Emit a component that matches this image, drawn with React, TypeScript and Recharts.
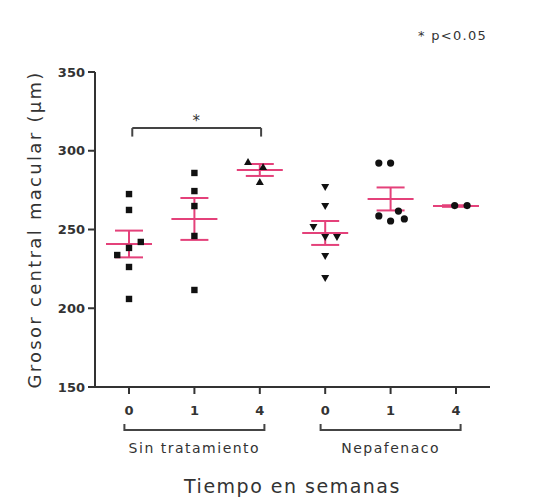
import React from "react";
import {
  ScatterChart,
  Scatter,
  XAxis,
  YAxis,
  ErrorBar,
  ReferenceLine,
  ReferenceDot,
} from "recharts";

// columns: 0-2 = Sin tratamiento (0, 1, 4 weeks), 3-5 = Nepafenaco (0, 1, 4 weeks)
const weekTicks = [0, 1, 2, 3, 4, 5];
const weekLabels = ["0", "1", "4", "0", "1", "4"];
const groupNames = ["Sin tratamiento", "Nepafenaco"];
const groupCenters = [1, 4];

const col0Values = [272.5, 262.4, 242.1, 238.3, 233.8, 226.2, 205.9];
const col0Jitter = [0, 0, 0.18, 0, -0.18, 0, 0];
const col1Values = [285.9, 274.4, 264.9, 245.9, 211.6];
const col1Jitter = [0, 0, 0, 0, 0];
const col2Values = [292.9, 289.7, 280.2];
const col2Jitter = [-0.18, 0.05, 0];
const col3Values = [277.0, 264.9, 251.6, 245.2, 245.2, 233.2, 219.2];
const col3Jitter = [0, 0, -0.18, 0, 0.18, 0, 0];
const col4Values = [292.2, 292.2, 261.7, 258.6, 255.4, 256.7];
const col4Jitter = [-0.18, 0, 0.12, -0.18, 0, 0.21];
const col5Values = [265.2, 265.2];
const col5Jitter = [-0.02, 0.17];

const means = [240.8, 256.7, 287.8, 247.8, 269.4, 264.9];
const sems = [8.5, 13.3, 3.8, 7.6, 7.3, 0.5];

const sigFrom = 0.05;
const sigTo = 2.02;
const sigLevel = 314.4;
const sigDrop = 309;

const PINK = "#e4417a";
const INK = "#333";
const FONT = "'DejaVu Sans', Arial, sans-serif";

const toPoints = (values: number[], jitter: number[], col: number) =>
  values.map((v, i) => ({ x: col + jitter[i], y: v }));

const meanData = means.map((m, i) => ({ x: i, y: m, sem: sems[i] }));

type Kind = "square" | "triUp" | "triDown" | "circle";

const makeMarker = (kind: Kind) => (props: any) => {
  const { cx, cy } = props;
  if (cx == null || cy == null) return <g />;
  const s = 3.2;
  if (kind === "square")
    return <rect x={cx - s} y={cy - s} width={s * 2} height={s * 2} fill="#111" />;
  if (kind === "circle") return <circle cx={cx} cy={cy} r={3.6} fill="#111" />;
  if (kind === "triUp")
    return <path d={`M${cx},${cy - 4} L${cx + 4},${cy + 3} L${cx - 4},${cy + 3}Z`} fill="#111" />;
  return <path d={`M${cx},${cy + 4} L${cx + 4},${cy - 3} L${cx - 4},${cy - 3}Z`} fill="#111" />;
};

const MeanLine = (props: any) => {
  const { cx, cy } = props;
  if (cx == null || cy == null) return <g />;
  return <line x1={cx - 23} x2={cx + 23} y1={cy} y2={cy} stroke={PINK} strokeWidth={2} />;
};

const WeekTick = (props: any) => {
  const { x, y, payload } = props;
  const v = payload.value;
  const gi = groupCenters.indexOf(v);
  return (
    <g>
      <text x={x} y={y + 19} textAnchor="middle" fontSize={13} fontWeight="bold" fill={INK} fontFamily={FONT}>
        {weekLabels[v]}
      </text>
      {gi >= 0 && (
        <g>
          <path
            d={`M${x - 70},${y + 28} V${y + 34} H${x + 70} V${y + 28}`}
            fill="none"
            stroke="#444"
            strokeWidth={2}
          />
          <text
            x={x}
            y={y + 57}
            textAnchor="middle"
            fontSize={14}
            fill={INK}
            fontFamily={FONT}
            style={{ letterSpacing: 1.5 }}
          >
            {groupNames[gi]}
          </text>
        </g>
      )}
    </g>
  );
};

export default function App() {
  return (
    <div style={{ position: "absolute", left: 0, top: 0, width: 548, height: 502, background: "#fff" }}>
      <div
        style={{
          position: "absolute",
          left: 418,
          top: 28,
          fontSize: 13,
          fontFamily: FONT,
          color: INK,
          letterSpacing: 1.3,
        }}
      >
        * p&lt;0.05
      </div>
      <ScatterChart width={548} height={502} margin={{ top: 72, right: 58, bottom: 5, left: 35 }}>
        <XAxis
          type="number"
          dataKey="x"
          domain={[-0.52, 5.52]}
          ticks={weekTicks}
          interval={0}
          tick={<WeekTick />}
          tickSize={7}
          tickMargin={2}
          height={110}
          stroke={INK}
          strokeWidth={2}
          label={{
            value: "Tiempo en semanas",
            position: "insideBottom",
            offset: 4,
            fontSize: 19,
            fill: INK,
            fontFamily: FONT,
            style: { letterSpacing: 1.5 },
          }}
        />
        <YAxis
          type="number"
          dataKey="y"
          domain={[150, 350]}
          ticks={[150, 200, 250, 300, 350]}
          width={60}
          tickSize={7}
          tickMargin={3}
          stroke={INK}
          strokeWidth={2}
          tick={{ fontSize: 13, fontWeight: "bold", fill: INK, fontFamily: FONT }}
          label={{
            value: "Grosor central macular (\u00b5m)",
            angle: -90,
            position: "insideLeft",
            offset: 0,
            fontSize: 18,
            fill: INK,
            fontFamily: FONT,
            style: { textAnchor: "middle", letterSpacing: 2.3 },
          }}
        />
        <Scatter data={meanData} shape={MeanLine} isAnimationActive={false}>
          <ErrorBar dataKey="sem" direction="y" width={14} stroke={PINK} strokeWidth={2} isAnimationActive={false} />
        </Scatter>
        <Scatter data={toPoints(col0Values, col0Jitter, 0)} shape={makeMarker("square")} isAnimationActive={false} />
        <Scatter data={toPoints(col1Values, col1Jitter, 1)} shape={makeMarker("square")} isAnimationActive={false} />
        <Scatter data={toPoints(col2Values, col2Jitter, 2)} shape={makeMarker("triUp")} isAnimationActive={false} />
        <Scatter data={toPoints(col3Values, col3Jitter, 3)} shape={makeMarker("triDown")} isAnimationActive={false} />
        <Scatter data={toPoints(col4Values, col4Jitter, 4)} shape={makeMarker("circle")} isAnimationActive={false} />
        <Scatter data={toPoints(col5Values, col5Jitter, 5)} shape={makeMarker("circle")} isAnimationActive={false} />
        <ReferenceLine segment={[{ x: sigFrom, y: sigLevel }, { x: sigTo, y: sigLevel }]} stroke="#444" strokeWidth={2} />
        <ReferenceLine segment={[{ x: sigFrom, y: sigLevel }, { x: sigFrom, y: sigDrop }]} stroke="#444" strokeWidth={2} />
        <ReferenceLine segment={[{ x: sigTo, y: sigLevel }, { x: sigTo, y: sigDrop }]} stroke="#444" strokeWidth={2} />
        <ReferenceDot
          x={1.03}
          y={321}
          r={0}
          fill="none"
          stroke="none"
          label={{ value: "*", position: "center", fontSize: 15, fill: INK, fontFamily: FONT, dy: 3 }}
        />
      </ScatterChart>
    </div>
  );
}
